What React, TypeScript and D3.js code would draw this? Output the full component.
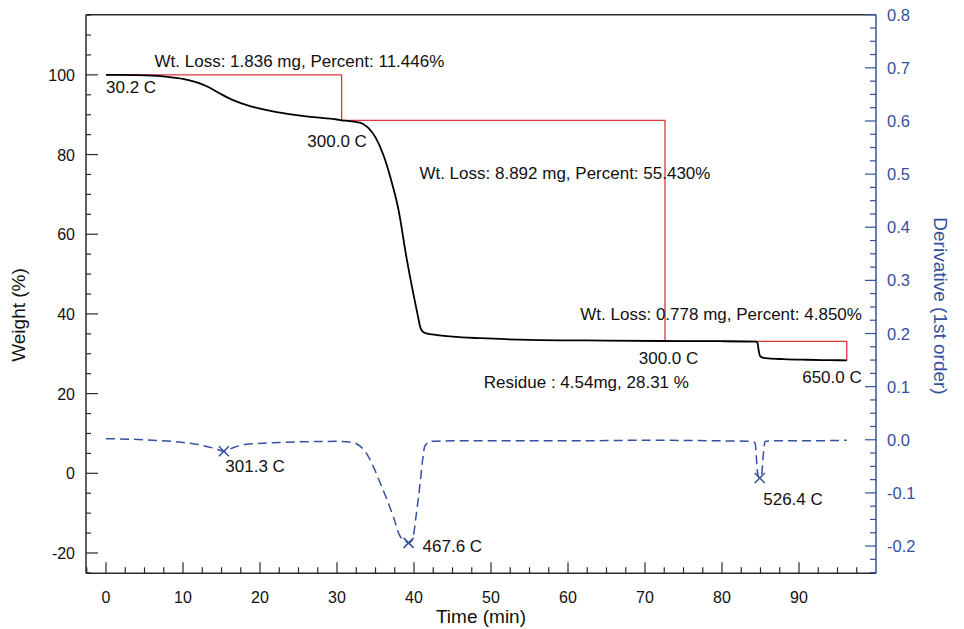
import React from "react";
import * as d3 from "d3";

// ---- TGA weight curve (time in min, weight in %) ----
const tgaTime = [0, 2, 4, 6, 8, 10, 12, 13, 14, 15, 16, 17, 18, 20, 22, 24, 26, 28, 30, 30.6, 31.5, 32, 33, 34, 35, 36, 37, 38, 39, 40, 40.5, 40.8, 41.1, 41.6, 43, 45, 48.6, 55, 65, 72, 80, 84.4, 84.6, 84.75, 84.9, 85.1, 85.3, 86, 88, 91, 94, 96.2];
const tgaWeight = [100, 100, 99.95, 99.8, 99.5, 99.0, 98.0, 97.2, 96.2, 95.1, 94.1, 93.3, 92.6, 91.5, 90.7, 90.1, 89.6, 89.2, 88.8, 88.6, 88.45, 88.3, 88.0, 86.8, 84.3, 80.0, 73.8, 66.0, 54.4, 44.2, 39.5, 36.8, 35.6, 35.1, 34.7, 34.3, 33.9, 33.5, 33.3, 33.2, 33.15, 33.05, 32.8, 31.0, 29.6, 29.15, 29.05, 28.85, 28.65, 28.5, 28.4, 28.35];

// ---- Derivative (1st order) curve ----
const derivTime = [0, 5, 10, 12, 14, 15.3, 16.5, 18, 21, 25, 30, 32, 33, 33.8, 34.7, 35.6, 36.5, 37.3, 38.2, 38.8, 39.3, 39.7, 39.9, 40.3, 40.8, 41.1, 41.4, 42.1, 45, 50, 60, 70, 80, 83.5, 84.3, 84.45, 84.6, 84.75, 84.9, 85.05, 85.2, 85.35, 85.6, 87, 90, 96.2];
const derivValue = [0.002, 0.0, -0.005, -0.009, -0.016, -0.0215, -0.015, -0.009, -0.006, -0.004, -0.003, -0.005, -0.012, -0.025, -0.05, -0.081, -0.113, -0.144, -0.182, -0.19, -0.194, -0.19, -0.182, -0.14, -0.081, -0.04, -0.012, -0.003, -0.002, -0.002, -0.002, -0.001, -0.002, -0.003, -0.006, -0.03, -0.06, -0.07, -0.072, -0.07, -0.06, -0.03, -0.003, -0.002, -0.002, -0.001];

// ---- Weight-loss steps (boundary times and weights) ----
const stepTimes = [0, 30.6, 72.6, 96.2];
const stepWeights = [100, 88.554, 33.124, 28.274];

// ---- Derivative peaks ----
const peakTime = [15.3, 39.3, 84.9];
const peakValue = [-0.0215, -0.194, -0.072];
const peakLabel = ["301.3 C", "467.6 C", "526.4 C"];

// ---- Tick labels ----
const xTicks = [0, 10, 20, 30, 40, 50, 60, 70, 80, 90];
const yLeftTicks = [-20, 0, 20, 40, 60, 80, 100];
const yRightTicks = [-0.2, -0.1, 0.0, 0.1, 0.2, 0.3, 0.4, 0.5, 0.6, 0.7, 0.8];

const W = 964;
const H = 629;
const M = { left: 86, right: 876, top: 14.7, bottom: 573.3 };
const FONT = "'Liberation Sans', Arial, sans-serif";
const BLUE = "#34509e";
const RED = "#e0343f";
const AXIS = "#2b2b2b";

export default function App() {
  const x = d3.scaleLinear().domain([-2.6, 100]).range([M.left, M.right]);
  const yL = d3.scaleLinear().domain([-25.1, 115.1]).range([M.bottom, M.top]);
  const yR = d3.scaleLinear().domain([-0.2513, 0.8]).range([M.bottom, M.top]);

  const tgaLine = d3
    .line<number>()
    .x((_, i) => x(tgaTime[i]))
    .y((d) => yL(d))
    .curve(d3.curveMonotoneX)(tgaWeight) as string;

  const derivLine = d3
    .line<number>()
    .x((_, i) => x(derivTime[i]))
    .y((d) => yR(d))
    .curve(d3.curveMonotoneX)(derivValue) as string;

  // red step outline: horizontal at each start weight, vertical drop at each boundary
  let stepPath = `M${x(stepTimes[0])},${yL(stepWeights[0])}`;
  for (let i = 1; i < stepTimes.length; i++) {
    stepPath += `H${x(stepTimes[i])}V${yL(stepWeights[i])}`;
  }

  const xMinor = d3.range(-2.5, 100, 2.5);
  const yLMinor = d3.range(-25, 115.1, 5);
  const yRMinor = d3.range(-0.25, 0.801, 0.025);

  const annText = { fontFamily: FONT, fontSize: 17, fill: "#111" } as const;

  const lossLabels = [
    { text: "Wt. Loss: 1.836 mg, Percent: 11.446%", t: 6.3, w: 100, dy: -7.5, anchor: "start" },
    { text: "Wt. Loss: 8.892 mg, Percent: 55.430%", t: 40.7, w: 88.554, dy: 58.5, anchor: "start" },
    { text: "Wt. Loss: 0.778 mg, Percent: 4.850%", t: 61.6, w: 33.124, dy: -21, anchor: "start" },
  ];
  const tempLabels = [
    { text: "30.2 C", t: 0, w: 100, dx: 0, dy: 18.5, anchor: "start" },
    { text: "300.0 C", t: 30.6, w: 88.554, dx: -4.5, dy: 26.5, anchor: "middle" },
    { text: "300.0 C", t: 72.6, w: 33.124, dx: 3.5, dy: 23, anchor: "middle" },
    { text: "650.0 C", t: 96.2, w: 28.274, dx: 15, dy: 22, anchor: "end" },
  ];

  return (
    <div style={{ position: "absolute", left: 0, top: 0 }}>
      <svg width={W} height={H} style={{ display: "block", background: "#fff" }}>
        {/* frame */}
        <line x1={M.left} x2={M.right} y1={M.top} y2={M.top} stroke={AXIS} strokeWidth={1.5} />
        <line x1={M.left} x2={M.right} y1={M.bottom} y2={M.bottom} stroke={AXIS} strokeWidth={1.5} />
        <line x1={M.left} x2={M.left} y1={M.top} y2={M.bottom} stroke={AXIS} strokeWidth={1.5} />
        <line x1={M.right} x2={M.right} y1={M.top} y2={M.bottom} stroke={BLUE} strokeWidth={1.5} />

        {/* x ticks */}
        {xMinor.map((t) => {
          const major = Math.abs(t / 10 - Math.round(t / 10)) < 1e-6;
          return (
            <line key={"xm" + t} x1={x(t)} x2={x(t)} y1={M.bottom} y2={M.bottom - (major ? 11 : 6)} stroke={AXIS} strokeWidth={1.2} />
          );
        })}
        {xTicks.map((t) => (
          <text key={"xt" + t} x={x(t)} y={602.5} textAnchor="middle" fontFamily={FONT} fontSize={16} fill="#111">
            {t}
          </text>
        ))}
        <text x={(M.left + M.right) / 2} y={623} textAnchor="middle" fontFamily={FONT} fontSize={19} fill="#111">
          Time (min)
        </text>

        {/* left ticks */}
        {yLMinor.map((v) => {
          const major = Math.abs(v / 20 - Math.round(v / 20)) < 1e-6;
          return (
            <line key={"ylm" + v} x1={M.left} x2={M.left + (major ? 12 : 5)} y1={yL(v)} y2={yL(v)} stroke={AXIS} strokeWidth={1.2} />
          );
        })}
        {yLeftTicks.map((v) => (
          <text key={"ylt" + v} x={75} y={yL(v) + 6} textAnchor="end" fontFamily={FONT} fontSize={16} fill="#111">
            {v}
          </text>
        ))}
        <text transform={`translate(25,315) rotate(-90)`} textAnchor="middle" fontFamily={FONT} fontSize={19} fill="#111">
          Weight (%)
        </text>

        {/* right ticks */}
        {yRMinor.map((v) => {
          const major = Math.abs(v * 10 - Math.round(v * 10)) < 1e-6;
          return (
            <line key={"yrm" + v.toFixed(3)} x1={M.right} x2={M.right - (major ? 11 : 6)} y1={yR(v)} y2={yR(v)} stroke={BLUE} strokeWidth={1.2} />
          );
        })}
        {yRightTicks.map((v) => (
          <text key={"yrt" + v} x={887} y={yR(v) + 6} textAnchor="start" fontFamily={FONT} fontSize={16.5} fill={BLUE}>
            {v.toFixed(1)}
          </text>
        ))}
        <text transform={`translate(934,306) rotate(90)`} textAnchor="middle" fontFamily={FONT} fontSize={19} fill={BLUE}>
          Derivative (1st order)
        </text>

        {/* step outline */}
        <path d={stepPath} fill="none" stroke={RED} strokeWidth={1.3} />

        {/* weight curve */}
        <path d={tgaLine} fill="none" stroke="#000" strokeWidth={1.8} />

        {/* derivative curve */}
        <path d={derivLine} fill="none" stroke={BLUE} strokeWidth={1.5} strokeDasharray="9,5" />

        {/* peak markers */}
        {peakTime.map((t, i) => {
          const cx = x(t);
          const cy = yR(peakValue[i]);
          const s = 5;
          return (
            <g key={"pk" + i} stroke={BLUE} strokeWidth={1.5}>
              <line x1={cx - s} x2={cx + s} y1={cy - s} y2={cy + s} />
              <line x1={cx - s} x2={cx + s} y1={cy + s} y2={cy - s} />
            </g>
          );
        })}
        {peakTime.map((t, i) => {
          const offs = [
            [1.5, 21],
            [14, 9.5],
            [3.5, 27],
          ][i];
          return (
            <text key={"pl" + i} x={x(t) + offs[0]} y={yR(peakValue[i]) + offs[1]} {...annText}>
              {peakLabel[i]}
            </text>
          );
        })}

        {/* weight-loss annotations */}
        {lossLabels.map((l, i) => (
          <text key={"ll" + i} x={x(l.t)} y={yL(l.w) + l.dy} textAnchor={l.anchor} {...annText}>
            {l.text}
          </text>
        ))}
        {tempLabels.map((l, i) => (
          <text key={"tl" + i} x={x(l.t) + l.dx} y={yL(l.w) + l.dy} textAnchor={l.anchor} {...annText}>
            {l.text}
          </text>
        ))}
        <text x={x(75.7)} y={yL(28.274) + 27} textAnchor="end" {...annText}>
          Residue : 4.54mg, 28.31 %
        </text>
      </svg>
    </div>
  );
}
